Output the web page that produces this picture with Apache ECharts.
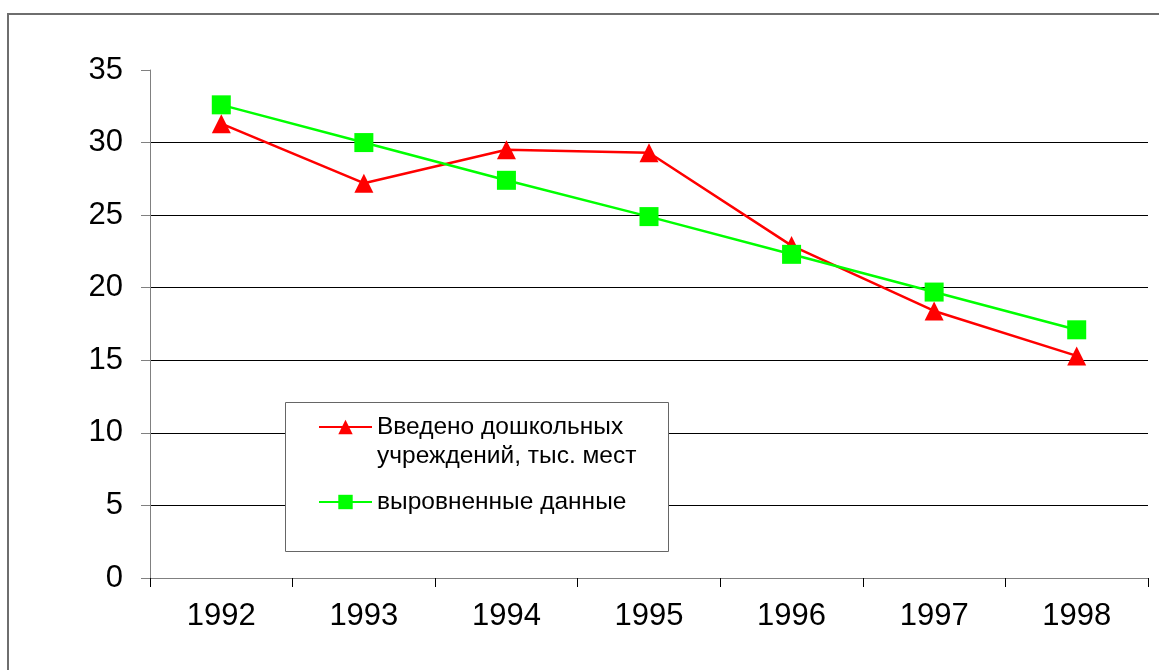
<!DOCTYPE html>
<html>
<head>
<meta charset="utf-8">
<script src="https://cdn.jsdelivr.net/npm/echarts@6/dist/echarts.min.js"></script>
<style>
  html, body { margin: 0; padding: 0; background: #fff; }
  #chart { width: 1159px; height: 670px; }
</style>
</head>
<body>
<div id="chart"></div>
<script>
  // data
  var years = ['1992', '1993', '1994', '1995', '1996', '1997', '1998']
  var vvedeno = [31.3, 27.2, 29.5, 29.3, 22.9, 18.4, 15.3]
  var vyrovn = [32.6, 30.0, 27.4, 24.9, 22.3, 19.7, 17.1]
  var nameVvedeno = 'Введено дошкольных\nучреждений, тыс. мест'
  var nameVyrovn = 'выровненные данные'

  var font = '"Liberation Sans", Arial, sans-serif'
  var chart = echarts.init(document.getElementById('chart'))

  chart.setOption({
    animation: false,
    backgroundColor: '#fff',
    grid: {
      left: 150,
      right: 11,
      top: 70,
      bottom: 92,
      containLabel: false
    },
    xAxis: {
      type: 'category',
      data: years,
      boundaryGap: true,
      axisLine: { lineStyle: { color: '#808080', width: 1 } },
      axisTick: { show: true, length: 9, lineStyle: { color: '#000' } },
      axisLabel: { color: '#000', fontSize: 31, fontFamily: font, margin: 23 },
      splitLine: { show: false }
    },
    yAxis: {
      type: 'value',
      min: 0,
      max: 35,
      interval: 5,
      axisLine: { show: true, lineStyle: { color: '#808080', width: 1 } },
      axisTick: { show: true, length: 9, lineStyle: { color: '#808080' } },
      axisLabel: { color: '#000', fontSize: 31, fontFamily: font, margin: 27 },
      splitLine: {
        show: true,
        // no line at 0 (axis) and none at 35
        lineStyle: { color: ['transparent', '#000', '#000', '#000', '#000', '#000', '#000', 'transparent'], width: 1 }
      }
    },
    graphic: [
      {
        type: 'rect',
        shape: { x: 8, y: 14, width: 1200, height: 700 },
        style: { fill: 'none', stroke: '#6e6e6e', lineWidth: 2 },
        z: 0,
        silent: true
      },
      {
        type: 'rect',
        shape: { x: 285.5, y: 402.5, width: 383, height: 149 },
        style: { fill: '#fff', stroke: '#666', lineWidth: 1 },
        z: 20,
        silent: true
      }
    ],
    legend: [
      {
        data: [nameVvedeno],
        // blank first line so the marker sits next to the first text line
        formatter: function (name) { return ' \n' + name },
        left: 318,
        top: 383.5,
        padding: 0,
        itemWidth: 53,
        itemHeight: 18,
        z: 30,
        textStyle: { color: '#000', fontSize: 24.5, fontFamily: font, lineHeight: 29 }
      },
      {
        data: [nameVyrovn],
        left: 318,
        top: 487.5,
        padding: 0,
        itemWidth: 53,
        itemHeight: 18,
        z: 30,
        textStyle: { color: '#000', fontSize: 24.5, fontFamily: font, lineHeight: 29 }
      }
    ],
    series: [
      {
        name: nameVvedeno,
        type: 'line',
        data: vvedeno,
        symbol: 'triangle',
        symbolSize: [19, 19],
        lineStyle: { color: '#ff0000', width: 2.5 },
        itemStyle: { color: '#ff0000' },
        z: 3
      },
      {
        name: nameVyrovn,
        type: 'line',
        data: vyrovn,
        symbol: 'rect',
        symbolSize: 19,
        lineStyle: { color: '#00ff00', width: 2.5 },
        itemStyle: { color: '#00ff00' },
        z: 4
      }
    ]
  })
</script>
</body>
</html>
